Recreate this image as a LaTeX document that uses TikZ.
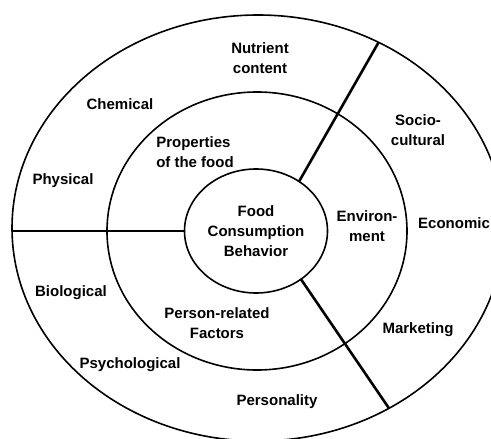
\documentclass[tikz,border=0pt]{standalone}
\usepackage{fontspec}
\setmainfont{Liberation Sans}
\usetikzlibrary{shapes.geometric}
\tikzset{
  ring/.style    = {draw, ellipse, line width=1.6pt, inner sep=0pt, outer sep=0pt},
  divider/.style = {line width=2.6pt},
  factor/.style  = {align=center, inner sep=0pt,
                    font=\bfseries\fontsize{15}{20}\selectfont}
}

\begin{document}
\begin{tikzpicture}[x=1pt, y=-1pt]
  \useasboundingbox (0,0) rectangle (491,439);
  % the three rings
  \node[ring, minimum width=492pt, minimum height=426pt] (outer) at (258,228) {};
  \node[ring, minimum width=300pt, minimum height=278pt] (middle) at (257,231) {};
  \node[ring, minimum width=143pt, minimum height=124pt, factor] (behavior) at (256,231)
    {Food\\Consumption\\Behavior};
  % dividers
  \draw[divider] (behavior.west) -- (behavior.west -| outer.west);
  \draw[divider] (behavior.49) -- (outer.57);
  \draw[divider] (behavior.-47) -- (outer.-54);
  % middle ring
  \node[factor, align=left] (food) at (195,152) {Properties\\of the food};
  \node[factor] (environment) at (367,226) {Environ-\\ment};
  \node[factor] (person) at (217,323) {Person-related\\Factors};
  % outer ring
  \node[factor] (nutrient) at (260,58) {Nutrient\\content};
  \node[factor] (chemical) at (120,104) {Chemical};
  \node[factor] (physical) at (63,181) {Physical};
  \node[factor] (socio) at (418,130) {Socio-\\cultural};
  \node[factor] (economic) at (454,223) {Economic};
  \node[factor] (marketing) at (418,330) {Marketing};
  \node[factor] (biological) at (71,293) {Biological};
  \node[factor] (psychological) at (130,365) {Psychological};
  \node[factor] (personality) at (277,402) {Personality};
\end{tikzpicture}
\end{document}
